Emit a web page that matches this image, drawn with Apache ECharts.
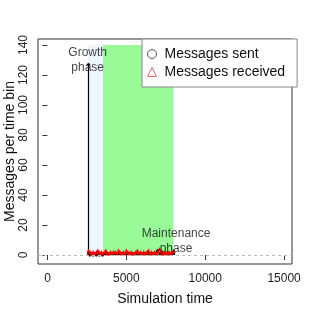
<!DOCTYPE html>
<html><head><meta charset="utf-8">
<script src="https://cdn.jsdelivr.net/npm/echarts@6/dist/echarts.min.js"></script>
<style>html,body{margin:0;padding:0;background:#fff}#c{width:312px;height:312px}</style>
</head><body><div id="c"></div>
<script>
const xTicks = [0, 5000, 10000, 15000];
const yTicks = [0, 20, 40, 60, 80, 100, 120, 140];
const binTimes = [2600,2700,2800,2900,3000,3100,3200,3300,3400,3500,3600,3700,3800,3900,4000,4100,4200,4300,4400,4500,4600,4700,4800,4900,5000,5100,5200,5300,5400,5500,5600,5700,5800,5900,6000,6100,6200,6300,6400,6500,6600,6700,6800,6900,7000,7100,7200,7300,7400,7500,7600,7700,7800,7900,8000];
const receivedValues = [3,2,1,2,1,2,3,1,2,1,2,3,1,1,2,1,2,2,1,3,2,1,2,1,3,2,1,2,1,1,2,3,1,2,1,2,1,2,3,1,2,1,2,1,2,4,1,2,1,2,1,2,1,2,3];
const sentTimes = [2600,2600,2700,2800,2900,3000,3100,3200,3300,3400,3500,3600,3700,3800,3900,4000,4100,4200,4300,4400,4500,4600,4700,4800,4900,5000,5100,5200,5300,5400,5500,5600,5700,5800,5900,6000,6100,6200,6300,6400,6500,6600,6700,6800,6900,7000,7100,7200,7300,7400,7500,7600,7700,7800,7900,8000];
const sentValues = [127,1,0,1,0,1,0,1,0,1,0,1,1,1,1,1,1,1,1,1,1,1,1,1,1,1,1,1,1,1,1,1,1,1,1,1,1,1,1,1,1,1,1,1,1,3,1,1,1,1,1,1,1,1,1,1];
const phaseNames = ['Growth\nphase', 'Maintenance\nphase'];
const phaseStarts = [2560, 3520];
const phaseEnds = [3520, 7980];
const phaseLabelX = [2550, 8150];
const phaseLabelY = [130, 9.5];
const seriesNames = ['Messages sent', 'Messages received'];

const FONT = 'Liberation Sans, Arial, Helvetica, sans-serif';
const chart = echarts.init(document.getElementById('c'));
chart.setOption({
  animation: false,
  backgroundColor: '#fff',
  textStyle: {fontFamily: FONT},
  grid: {left: 38, right: 20, top: 39, bottom: 48, containLabel: false, outerBoundsMode: 'none',
         show: true, borderColor: '#333', borderWidth: 1, backgroundColor: 'transparent'},
  xAxis: {
    type: 'value', min: -600, max: 15500,
    name: 'Simulation time', nameLocation: 'middle', nameGap: 28, nameMoveOverlap: false,
    nameTextStyle: {fontSize: 14, color: '#111', fontFamily: FONT},
    splitLine: {show: false}, axisLine: {show: false},
    axisTick: {show: true, inside: false, length: 5, lineStyle: {color: '#333'}, customValues: xTicks},
    axisLabel: {fontSize: 12, color: '#222', margin: 9, customValues: xTicks, fontFamily: FONT, formatter: v => String(v)}
  },
  yAxis: {
    type: 'value', min: -6, max: 144,
    name: 'Messages per time bin', nameLocation: 'middle', nameGap: 21, nameMoveOverlap: false,
    nameTextStyle: {fontSize: 14, color: '#111', fontFamily: FONT},
    splitLine: {show: false}, axisLine: {show: false},
    axisTick: {show: true, inside: false, length: 5, lineStyle: {color: '#333'}, customValues: yTicks},
    axisLabel: {fontSize: 12, color: '#222', rotate: 90, margin: 8, customValues: yTicks, fontFamily: FONT, formatter: v => String(v)}
  },
  legend: {
    orient: 'vertical', left: 142, top: 39,
    padding: [7, 12, 7, 5], itemGap: 2, itemWidth: 9, itemHeight: 9,
    backgroundColor: '#fff', borderColor: '#888', borderWidth: 1, borderRadius: 0,
    textStyle: {fontSize: 14, color: '#111', lineHeight: 16, fontFamily: FONT, padding: [0, 0, 0, 3]},
    data: [
      {name: seriesNames[0], icon: 'circle', itemStyle: {color: '#fff', borderColor: '#555', borderWidth: 1}},
      {name: seriesNames[1], icon: 'triangle', itemStyle: {color: '#fff', borderColor: '#f66', borderWidth: 1}}
    ],
    z: 10
  },
  series: [
    {
      type: 'line', name: seriesNames[0], z: 3,
      data: sentTimes.map((t, i) => [t, sentValues[i]]),
      symbol: 'circle', symbolSize: 3, showSymbol: true,
      lineStyle: {color: '#000', width: 1.2}, itemStyle: {color: '#000'},
      markArea: {
        silent: true,
        data: [
          [{xAxis: phaseStarts[0], yAxis: 0, itemStyle: {color: '#EEF5FF'}}, {xAxis: phaseEnds[0], yAxis: 140}],
          [{xAxis: phaseStarts[1], yAxis: 0, itemStyle: {color: '#98FB98'}}, {xAxis: phaseEnds[1], yAxis: 140}]
        ]
      },
      markLine: {
        silent: true, symbol: 'none', label: {show: false},
        lineStyle: {color: '#bbb', type: [3, 3], width: 1},
        data: [{yAxis: 0}]
      }
    },
    {
      type: 'line', name: seriesNames[1], z: 4,
      data: binTimes.map((t, i) => [t, receivedValues[i]]),
      symbol: 'triangle', symbolSize: 4, showSymbol: true,
      lineStyle: {color: '#f00', width: 0.8}, itemStyle: {color: '#f00'}
    },
    {
      type: 'scatter', z: 5, silent: true, symbolSize: 0,
      data: phaseNames.map((n, i) => [phaseLabelX[i], phaseLabelY[i], n]),
      label: {show: true, position: 'inside', formatter: p => p.value[2], fontSize: 12, lineHeight: 15, color: '#111', fontFamily: FONT, align: 'center'}
    }
  ]
});
</script></body></html>
